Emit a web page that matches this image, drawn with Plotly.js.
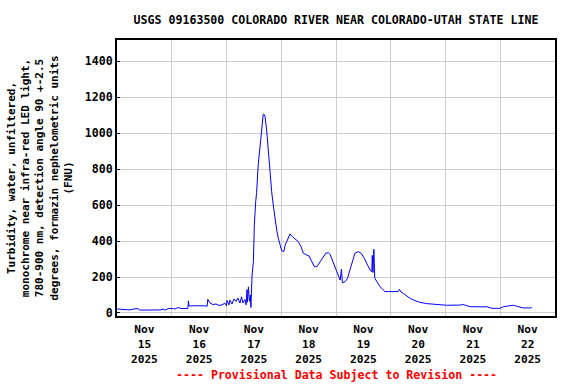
<!DOCTYPE html>
<html>
<head>
<meta charset="utf-8">
<script src="https://cdn.plot.ly/plotly-3.0.1.min.js"></script>
<style>
html,body{margin:0;padding:0;background:#fff;}
#chart{width:576px;height:384px;}
</style>
</head>
<body>
<div id="chart"></div>
<script>
const times = [
"2025-11-15 00:00","2025-11-15 03:30","2025-11-15 05:42","2025-11-15 07:00","2025-11-15 09:12",
"2025-11-15 10:00","2025-11-15 12:18","2025-11-15 16:42","2025-11-15 18:54","2025-11-15 20:12",
"2025-11-15 21:00","2025-11-15 22:24","2025-11-16 00:06","2025-11-16 01:24","2025-11-16 02:42",
"2025-11-16 04:30","2025-11-16 05:48","2025-11-16 07:06","2025-11-16 07:18","2025-11-16 07:36",
"2025-11-16 10:12","2025-11-16 12:24","2025-11-16 14:36","2025-11-16 15:30","2025-11-16 15:48",
"2025-11-16 16:48","2025-11-16 18:06","2025-11-16 19:24","2025-11-16 20:42","2025-11-16 22:00",
"2025-11-16 23:18","2025-11-17 00:00","2025-11-17 00:12","2025-11-17 01:06","2025-11-17 01:30",
"2025-11-17 02:24","2025-11-17 03:18","2025-11-17 04:12","2025-11-17 05:00","2025-11-17 05:54",
"2025-11-17 06:36","2025-11-17 07:12","2025-11-17 08:06","2025-11-17 08:36","2025-11-17 09:00",
"2025-11-17 09:12","2025-11-17 09:36","2025-11-17 10:06","2025-11-17 10:30","2025-11-17 10:42",
"2025-11-17 11:12","2025-11-17 11:48","2025-11-17 12:12","2025-11-17 12:48","2025-11-17 13:12",
"2025-11-17 13:54","2025-11-17 14:42","2025-11-17 15:24","2025-11-17 16:06","2025-11-17 16:24",
"2025-11-17 16:54","2025-11-17 17:36","2025-11-17 18:18","2025-11-17 19:06","2025-11-17 19:48",
"2025-11-17 20:30","2025-11-17 21:18","2025-11-17 22:00","2025-11-17 22:42","2025-11-18 00:12",
"2025-11-18 01:06","2025-11-18 01:42","2025-11-18 02:24","2025-11-18 03:00","2025-11-18 03:48",
"2025-11-18 04:54","2025-11-18 06:00","2025-11-18 07:30","2025-11-18 08:42","2025-11-18 09:42",
"2025-11-18 11:12","2025-11-18 12:12","2025-11-18 13:24","2025-11-18 14:30","2025-11-18 15:36",
"2025-11-18 17:00","2025-11-18 18:24","2025-11-18 19:30","2025-11-18 20:36","2025-11-18 21:24",
"2025-11-18 22:24","2025-11-18 23:36","2025-11-19 00:48","2025-11-19 01:48","2025-11-19 02:24",
"2025-11-19 02:48","2025-11-19 04:00","2025-11-19 05:06","2025-11-19 06:06","2025-11-19 07:18",
"2025-11-19 08:18","2025-11-19 09:48","2025-11-19 11:00","2025-11-19 12:24","2025-11-19 13:54",
"2025-11-19 14:54","2025-11-19 15:42","2025-11-19 15:54","2025-11-19 16:12","2025-11-19 16:36",
"2025-11-19 17:00","2025-11-19 17:48","2025-11-19 18:24","2025-11-19 19:18","2025-11-19 20:30",
"2025-11-19 21:30","2025-11-19 23:42","2025-11-20 03:18","2025-11-20 03:48","2025-11-20 04:30",
"2025-11-20 05:30","2025-11-20 07:00","2025-11-20 08:30","2025-11-20 10:36","2025-11-20 12:48",
"2025-11-20 15:48","2025-11-20 20:12","2025-11-20 21:36","2025-11-21 00:30","2025-11-21 03:18",
"2025-11-21 06:24","2025-11-21 07:42","2025-11-21 10:48","2025-11-21 16:30","2025-11-21 18:12",
"2025-11-21 20:18","2025-11-21 23:54","2025-11-22 01:24","2025-11-22 05:42","2025-11-22 07:24",
"2025-11-22 10:06","2025-11-22 13:06","2025-11-22 13:48"
];
const turbidity = [
22,20,17,22,24,
16,17,17,17,22,
16,24,26,22,30,
24,26,26,67,39,
40,42,40,37,76,
55,47,50,42,45,
55,40,70,45,72,
50,78,65,83,55,
90,55,75,45,130,
60,145,65,100,31,
211,285,489,618,670,
822,933,1044,1104,1104,
1091,1017,896,785,674,
600,517,461,415,346,
341,378,396,415,439,
424,410,396,368,332,
322,317,285,257,257,
285,317,332,335,326,
294,257,220,183,243,
168,174,193,239,294,
332,341,332,304,267,
239,230,320,225,354,
193,174,160,146,131,
119,119,119,131,117,
109,94,81,69,59,
52,50,46,43,42,
44,47,35,34,35,
26,26,35,43,37,
28,28,31
];
// Axis tick positions and labels
const dayTicks = ["2025-11-15 12:00","2025-11-16 12:00","2025-11-17 12:00","2025-11-18 12:00",
                  "2025-11-19 12:00","2025-11-20 12:00","2025-11-21 12:00","2025-11-22 12:00"];
const dayLabels = ["Nov<br>15<br>2025","Nov<br>16<br>2025","Nov<br>17<br>2025","Nov<br>18<br>2025",
                   "Nov<br>19<br>2025","Nov<br>20<br>2025","Nov<br>21<br>2025","Nov<br>22<br>2025"];
const yTicks = [0,200,400,600,800,1000,1200,1400];

const FONT = '"DejaVu Sans Mono", "Liberation Mono", monospace';

const trace = {
  x: times, y: turbidity, type: 'scatter', mode: 'lines',
  line: {color: '#0000ff', width: 1}, hoverinfo: 'x+y', showlegend: false
};

const layout = {
  width: 576, height: 384,
  margin: {l: 117, r: 21, t: 40, b: 68},
  paper_bgcolor: '#ffffff', plot_bgcolor: '#ffffff',
  font: {family: FONT, size: 11.6, color: '#000000', weight: 'bold'},
  title: {
    text: '<b>USGS 09163500 COLORADO RIVER NEAR COLORADO-UTAH STATE LINE</b>',
    font: {family: FONT, size: 11.6, color: '#000'},
    x: 0.5, xref: 'paper', xanchor: 'center',
    y: 1 - 20/384, yref: 'container', yanchor: 'middle'
  },
  xaxis: {
    type: 'date',
    range: ['2025-11-15 00:00', '2025-11-23 00:00'],
    tickmode: 'array', tickvals: dayTicks, ticktext: dayLabels,
    showgrid: false, ticks: '', zeroline: false,
    ticklabelstandoff: 2,
    tickfont: {family: FONT, size: 11.2, color: '#000', weight: 'bold'},
    showline: true, linecolor: '#000', linewidth: 2, mirror: true,
    minor: {dtick: 86400000, tick0: '2025-11-15 00:00', showgrid: true, gridcolor: '#cccccc', gridwidth: 1, ticks: ''},
    fixedrange: true
  },
  yaxis: {
    range: [-16.7, 1516.7],
    tickmode: 'array', tickvals: yTicks,
    showgrid: true, gridcolor: '#cccccc', gridwidth: 1,
    zeroline: false,
    ticks: 'inside', ticklen: 3, tickcolor: '#000', tickwidth: 1,
    tickfont: {family: FONT, size: 11.6, color: '#000', weight: 'bold'},
    showline: true, linecolor: '#000', linewidth: 2, mirror: true,
    title: {
      text: '<b>Turbidity, water, unfiltered,<br>monochrome near infra-red LED light,<br>780-900 nm, detection angle 90 +-2.5<br>degrees, formazin nephelometric units<br>(FNU)</b>',
      font: {family: FONT, size: 11, color: '#000'},
      standoff: 10
    },
    fixedrange: true
  },
  annotations: [{
    text: '<b>---- Provisional Data Subject to Revision ----</b>',
    xref: 'paper', yref: 'paper', x: 0.5, y: -(375-316)/276,
    xanchor: 'center', yanchor: 'middle', showarrow: false,
    font: {family: FONT, size: 11.6, color: '#ff0000'}
  }]
};

Plotly.newPlot('chart', [trace], layout, {displayModeBar: false, staticPlot: true});
</script>
</body>
</html>
